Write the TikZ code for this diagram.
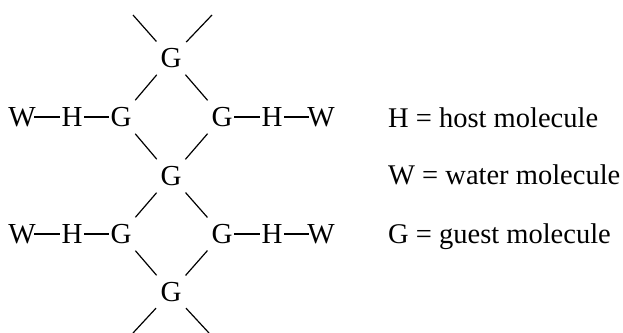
\documentclass[tikz,border=0pt]{standalone}
\usepackage{fontspec}
\setmainfont{Liberation Serif}
\begin{document}
\begin{tikzpicture}[x=1pt,y=-1pt,
  atom/.style={inner sep=0pt,font=\fontsize{29}{34}\selectfont},
  legend/.style={inner sep=0pt,anchor=base west,font=\fontsize{28.5}{34}\selectfont},
  hbond/.style={line width=1.2pt,shorten <=12pt,shorten >=12pt},
  dbond/.style={line width=1.2pt,shorten <=22pt,shorten >=22pt},
  fbond/.style={line width=1.2pt,shorten >=22pt}]
\useasboundingbox (0,0) rectangle (623,332);
% G chain
\node[atom] (gt) at (171,58) {G};
\node[atom] (gl1) at (121,117) {G};
\node[atom] (gr1) at (222,117) {G};
\node[atom] (gm) at (171,176) {G};
\node[atom] (gl2) at (121,234) {G};
\node[atom] (gr2) at (222,234) {G};
\node[atom] (gb) at (171,292) {G};
% host / water
\node[atom] (hl1) at (72,117) {H};
\node[atom] (wl1) at (22,117) {W};
\node[atom] (hr1) at (272,117) {H};
\node[atom] (wr1) at (321,117) {W};
\node[atom] (hl2) at (72,234) {H};
\node[atom] (wl2) at (22,234) {W};
\node[atom] (hr2) at (272,234) {H};
\node[atom] (wr2) at (321,234) {W};
% free ends
\coordinate (t1) at (133,15);
\coordinate (t2) at (212,15);
\coordinate (b1) at (133,333);
\coordinate (b2) at (209,333);
% bonds
\draw[fbond] (t1) -- (gt.center);
\draw[fbond] (t2) -- (gt.center);
\draw[fbond] (b1) -- (gb.center);
\draw[fbond] (b2) -- (gb.center);
\draw[dbond] (gt.center) -- (gl1.center);
\draw[dbond] (gt.center) -- (gr1.center);
\draw[dbond] (gl1.center) -- (gm.center);
\draw[dbond] (gr1.center) -- (gm.center);
\draw[dbond] (gm.center) -- (gl2.center);
\draw[dbond] (gm.center) -- (gr2.center);
\draw[dbond] (gl2.center) -- (gb.center);
\draw[dbond] (gr2.center) -- (gb.center);
\draw[hbond] (wl1.center) -- (hl1.center);
\draw[hbond] (hl1.center) -- (gl1.center);
\draw[hbond] (gr1.center) -- (hr1.center);
\draw[hbond] (hr1.center) -- (wr1.center);
\draw[hbond] (wl2.center) -- (hl2.center);
\draw[hbond] (hl2.center) -- (gl2.center);
\draw[hbond] (gr2.center) -- (hr2.center);
\draw[hbond] (hr2.center) -- (wr2.center);
% legend
\node[legend] (lh) at (388,127) {H = host molecule};
\node[legend] (lw) at (388,184) {W = water molecule};
\node[legend] (lg) at (388,243) {G = guest molecule};
\end{tikzpicture}
\end{document}
